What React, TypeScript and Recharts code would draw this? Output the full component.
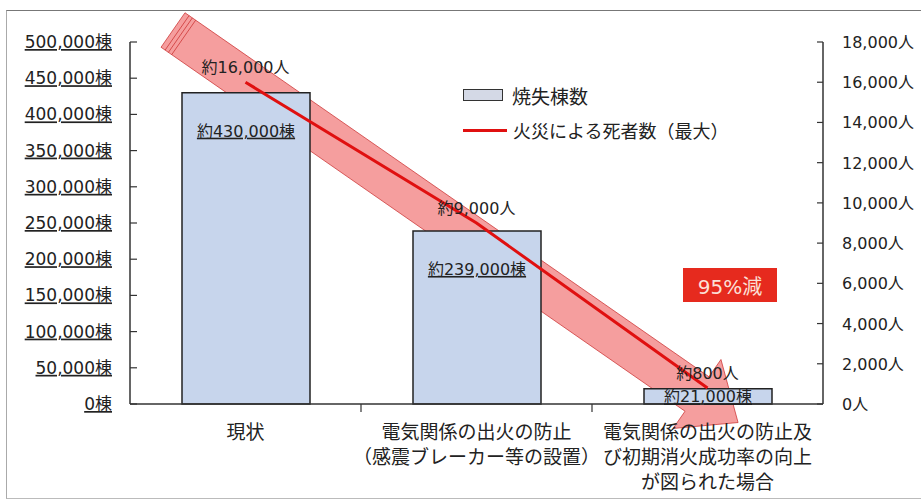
import React from 'react';
import { ComposedChart, Bar, Line, XAxis, YAxis, Legend, LabelList, Customized } from 'recharts';

// Chart data
const categoryLines = [
  ['現状'],
  ['電気関係の出火の防止', '（感震ブレーカー等の設置）'],
  ['電気関係の出火の防止及', 'び初期消火成功率の向上', 'が図られた場合'],
];
const burnedBuildings = [430000, 239000, 21000];
const deaths = [16000, 9000, 800];
const buildingLabels = ['約430,000棟', '約239,000棟', '約21,000棟'];
const deathLabels = ['約16,000人', '約9,000人', '約800人'];
const leftTicks = [0, 50000, 100000, 150000, 200000, 250000, 300000, 350000, 400000, 450000, 500000];
const rightTicks = [0, 2000, 4000, 6000, 8000, 10000, 12000, 14000, 16000, 18000];

const W = 921;
const H = 501;
const PLOT = { left: 130, right: 823, top: 42, bottom: 404 };
const BAND = (PLOT.right - PLOT.left) / categoryLines.length;

const NUM_FONT = "'DejaVu Sans', 'Noto Sans CJK JP', sans-serif";
const JP_FONT = "'Noto Sans CJK JP', sans-serif";
const INK = '#222';
const BAR_FILL = '#c7d5ec';
const LINE_RED = '#e01010';

const rows = categoryLines.map((lines, i) => ({
  name: lines.join(''),
  buildings: burnedBuildings[i],
  deaths: deaths[i],
  buildingLabel: buildingLabels[i],
  deathLabel: deathLabels[i],
}));

const fmt = (v: number) => v.toLocaleString('en-US');

const LeftTick = ({ x, y, payload }: any) => (
  <g>
    <line x1={x} x2={x + 7} y1={y} y2={y} stroke="#333" strokeWidth={1.2} />
    <text x={x - 18} y={y} dy={6} textAnchor="end" fontSize={17} fontFamily={NUM_FONT} fill={INK} textDecoration="underline">
      {fmt(payload.value)}棟
    </text>
  </g>
);

const RightTick = ({ x, y, payload }: any) => (
  <g>
    <line x1={x - 6} x2={x} y1={y} y2={y} stroke="#333" strokeWidth={1.2} />
    <text x={x + 19} y={y} dy={6} textAnchor="start" fontSize={16} fontFamily={NUM_FONT} fill={INK}>
      {fmt(payload.value)}人
    </text>
  </g>
);

const CategoryTick = ({ x, y, index }: any) => {
  const lines = categoryLines[index] || [];
  return (
    <g>
      {index > 0 && <line x1={x - BAND / 2} x2={x - BAND / 2} y1={y} y2={y + 8} stroke="#333" strokeWidth={1.2} />}
      <text x={x} y={y} textAnchor="middle" fontSize={19} fontFamily={JP_FONT} fill={INK}>
        {lines.map((t, i) => (
          <tspan key={i} x={x} y={y + 35 + i * 25}>{t}</tspan>
        ))}
      </text>
    </g>
  );
};

const BarValueLabel = ({ x, y, width, height, value }: any) => {
  const cy = height < 40 ? y + height / 2 : y + 38;
  return (
    <text x={x + width / 2} y={cy} dy={6} textAnchor="middle" fontSize={16} fontFamily={NUM_FONT} fill={INK} textDecoration="underline">
      {value}
    </text>
  );
};

const DeathValueLabel = ({ x, y, value }: any) => (
  <text x={x} y={y - 15} dy={6} textAnchor="middle" fontSize={16} fontFamily={NUM_FONT} fill={INK}>
    {value}
  </text>
);

// big translucent decoration arrow drawn over the plot
const DecoArrow = () => {
  const S = [173, 30];
  const B = [697, 394];
  const dx = B[0] - S[0];
  const dy = B[1] - S[1];
  const len = Math.hypot(dx, dy);
  const ux = dx / len;
  const uy = dy / len;
  const nx = -uy;
  const ny = ux;
  const body = 21;
  const head = 42;
  const headLen = 50;
  const p = (base: number[], a: number, b: number) => `${base[0] + ux * a + nx * b},${base[1] + uy * a + ny * b}`;
  const pts = [p(S, 0, body), p(B, 0, body), p(B, 0, head), p(B, headLen, 0), p(B, 0, -head), p(B, 0, -body), p(S, 0, -body)].join(' ');
  return (
    <g>
      <polygon points={pts} fill="rgba(232,40,40,0.45)" stroke="rgba(200,40,40,0.7)" strokeWidth={1} />
      {[5, 9, 13].map((k) => (
        <line
          key={k}
          x1={S[0] + ux * k + nx * body}
          y1={S[1] + uy * k + ny * body}
          x2={S[0] + ux * k - nx * body}
          y2={S[1] + uy * k - ny * body}
          stroke="rgba(200,40,40,0.7)"
          strokeWidth={1}
        />
      ))}
    </g>
  );
};

const LegendBox = () => (
  <div style={{ fontFamily: JP_FONT, color: INK }}>
    <div style={{ display: 'flex', alignItems: 'center', height: 26 }}>
      <span style={{ display: 'inline-block', width: 38, height: 10, background: '#d4d9e6', border: '1.5px solid #333', marginRight: 9 }} />
      <span style={{ fontSize: 19 }}>焼失棟数</span>
    </div>
    <div style={{ display: 'flex', alignItems: 'center', height: 26, marginTop: 9 }}>
      <span style={{ display: 'inline-block', width: 44, height: 3, background: LINE_RED, marginRight: 6 }} />
      <span style={{ fontSize: 18 }}>火災による死者数（最大）</span>
    </div>
  </div>
);

export default function App() {
  return (
    <div style={{ position: 'absolute', left: 0, top: 0, width: W, height: H, overflow: 'hidden', background: '#fff' }}>
      <div style={{ position: 'absolute', left: 6, top: 10, width: W, height: 487, borderTop: '1px solid #777', borderLeft: '1px solid #aaa', borderBottom: '1px solid #bbb' }} />
      <ComposedChart width={W} height={H} data={rows} margin={{ top: PLOT.top, right: 0, bottom: 0, left: 0 }}>
        <XAxis
          dataKey="name"
          height={H - PLOT.bottom}
          interval={0}
          tickSize={0}
          tickMargin={0}
          tick={<CategoryTick />}
          axisLine={{ stroke: '#333', strokeWidth: 1.5 }}
        />
        <YAxis
          yAxisId="left"
          orientation="left"
          width={PLOT.left}
          domain={[0, 500000]}
          ticks={leftTicks}
          interval={0}
          tickSize={0}
          tickMargin={0}
          tick={<LeftTick />}
          axisLine={{ stroke: '#333', strokeWidth: 1.5 }}
        />
        <YAxis
          yAxisId="right"
          orientation="right"
          width={W - PLOT.right}
          domain={[0, 18000]}
          ticks={rightTicks}
          interval={0}
          tickSize={0}
          tickMargin={0}
          tick={<RightTick />}
          axisLine={{ stroke: '#333', strokeWidth: 1.5 }}
        />
        <Legend
          layout="horizontal"
          verticalAlign="middle"
          align="center"
          content={() => <LegendBox />}
          wrapperStyle={{ left: 463, top: 82, width: 320 }}
        />
        <Bar yAxisId="left" dataKey="buildings" name="焼失棟数" barSize={128} fill={BAR_FILL} stroke="#222" strokeWidth={1.5} isAnimationActive={false}>
          <LabelList dataKey="buildingLabel" content={<BarValueLabel />} />
        </Bar>
        <Customized component={<DecoArrow />} />
        <Line
          yAxisId="right"
          dataKey="deaths"
          name="火災による死者数（最大）"
          type="linear"
          stroke={LINE_RED}
          strokeWidth={3}
          dot={false}
          isAnimationActive={false}
        >
          <LabelList dataKey="deathLabel" content={<DeathValueLabel />} />
        </Line>
      </ComposedChart>
      <div
        style={{
          position: 'absolute',
          left: 683,
          top: 268,
          width: 94,
          height: 34,
          background: '#e62a1e',
          color: '#fbe0d8',
          fontFamily: NUM_FONT,
          fontSize: 20,
          display: 'flex',
          alignItems: 'center',
          justifyContent: 'center',
        }}
      >
        95%減
      </div>
    </div>
  );
}
